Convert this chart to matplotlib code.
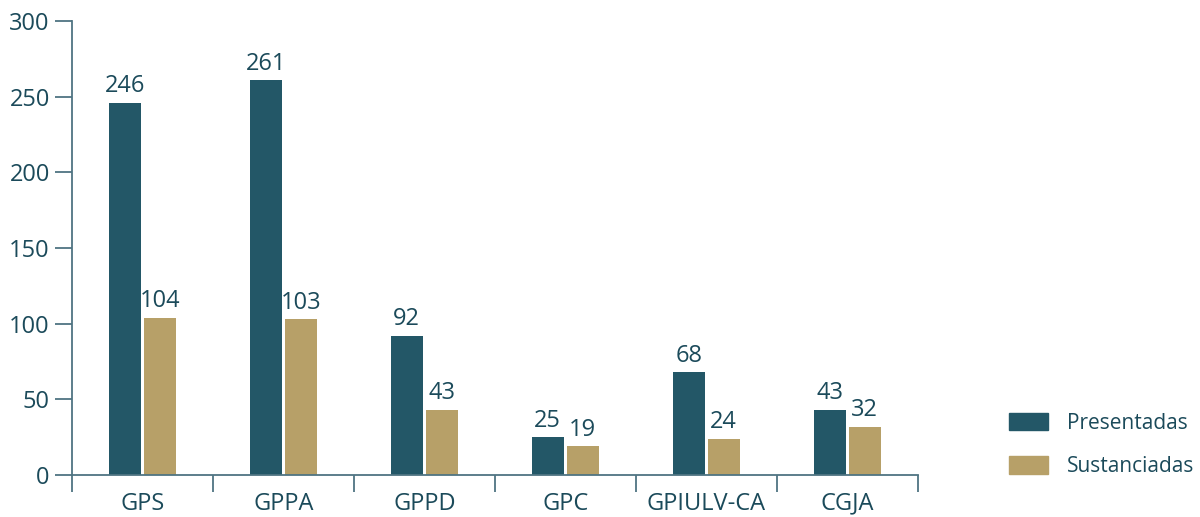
import numpy as np
import matplotlib.pyplot as plt
from matplotlib.patches import Patch

categories = ['GPS', 'GPPA', 'GPPD', 'GPC', 'GPIULV-CA', 'CGJA']
presentadas = [246, 261, 92, 25, 68, 43]
sustanciadas = [104, 103, 43, 19, 24, 32]
series_names = ['Presentadas', 'Sustanciadas']

dark = '#235767'
tan = '#b7a068'
text_col = '#1b4a5a'
axis_col = '#4f7482'
fs = 17

plt.rcParams['font.family'] = ['Open Sans', 'DejaVu Sans']

fig = plt.figure(figsize=(12, 5.17), dpi=100)
ax = fig.add_axes([0.06, 0.0812, 0.705, 0.878])

x = np.arange(len(categories))
w = 0.227
b1 = ax.bar(x - 0.126, presentadas, w, color=dark)
b2 = ax.bar(x + 0.122, sustanciadas, w, color=tan)

# etiquetas de valor encima de cada barra
for bars, vals in ((b1, presentadas), (b2, sustanciadas)):
    for rect, v in zip(bars, vals):
        ax.text(rect.get_x() + rect.get_width() / 2, v + 3, str(v),
                ha='center', va='bottom', fontsize=fs, color=text_col)

ax.set_xlim(-0.5, len(categories) - 0.5)
ax.set_ylim(0, 300)
ax.set_yticks(range(0, 301, 50))
ax.set_xticks(np.arange(-0.5, len(categories)), minor=False)
ax.set_xticklabels([])
ax.set_xticks(x, minor=True)
ax.set_xticklabels(categories, minor=True)
ax.tick_params(axis='x', which='major', length=12, color=axis_col, width=1.3)
ax.tick_params(axis='x', which='minor', length=0, pad=12, labelsize=fs, labelcolor=text_col)
ax.tick_params(axis='y', length=12, color=axis_col, width=1.3, labelsize=fs,
               labelcolor=text_col, pad=4)

for s in ('top', 'right'):
    ax.spines[s].set_visible(False)
for s in ('left', 'bottom'):
    ax.spines[s].set_color(axis_col)
    ax.spines[s].set_linewidth(1.3)

handles = [Patch(color=dark), Patch(color=tan)]
fig.legend(handles, series_names, loc='upper left', bbox_to_anchor=(0.841, 0.202),
           frameon=False, fontsize=15, labelcolor=text_col,
           handlelength=1.87, handleheight=0.91, handletextpad=0.9, labelspacing=1.09,
           borderaxespad=0, borderpad=0)

fig.savefig('out.png', dpi=100)
